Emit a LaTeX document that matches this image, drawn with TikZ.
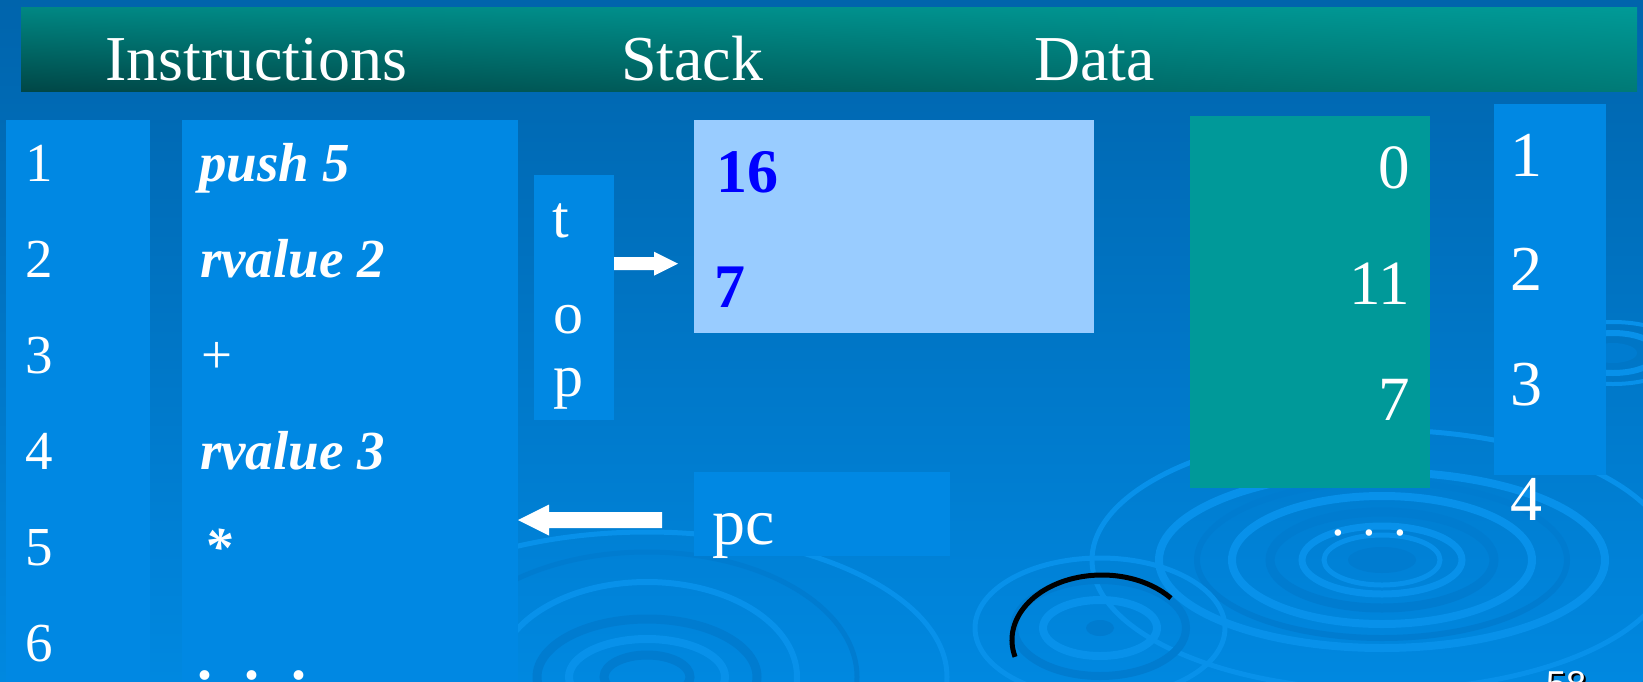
\documentclass[tikz,border=0pt]{standalone}
\usepackage{fontspec}
\setmainfont{Liberation Serif}
\newfontfamily\slidesans{Liberation Sans}
\usetikzlibrary{calc,shadings}

\newcommand\pxsize[1]{\fontsize{#1}{#1}\selectfont}

\definecolor{bgtop}{HTML}{0064AC}
\definecolor{bgmid}{HTML}{0072C4}
\definecolor{bgbot}{HTML}{0088E0}
\definecolor{panel}{HTML}{0088E3}
\definecolor{stackfill}{HTML}{99CCFF}
\definecolor{datafill}{HTML}{009999}
\definecolor{ringlight}{HTML}{0891EA}
\definecolor{ringdark}{HTML}{007CD0}
\definecolor{barUL}{HTML}{008783}
\definecolor{barUR}{HTML}{009A97}
\definecolor{barLL}{HTML}{004646}
\definecolor{barLR}{HTML}{007A76}
\definecolor{valblue}{HTML}{0000FF}

\tikzset{
  box/.style={draw=none, inner sep=0pt, outer sep=0pt, anchor=north west},
  panelbox/.style={box, fill=panel},
  label/.style={inner sep=0pt, outer sep=0pt, text=white, anchor=base west},
  bodytext/.style={label, font=\pxsize{55}},
  codetext/.style={label, font=\pxsize{55}\bfseries\itshape},
  ring/.style={line width=#1},
}

\begin{document}
\begin{tikzpicture}[x=1pt, y=-1pt]
\useasboundingbox (0,0) rectangle (1643,681);
\clip (0,0) rectangle (1643,681);

% slide background
\shade[top color=bgtop, middle color=bgmid, bottom color=bgbot] (0,0) rectangle (1643,681);

% ripple rings
\foreach \cx/\cy/\rx/\ry/\col/\w in {
  1382/560/223/88/ringlight/8, 1382/560/185/78/ringdark/6,
  1382/560/150/64/ringlight/8, 1382/560/112/48/ringdark/9,
  1382/560/80/34/ringlight/7, 1382/560/58/25/ringlight/5,
  1382/560/290/130/ringlight/5,
  1100/628/57/28/ringlight/8, 1100/628/86/48/ringdark/8,
  1100/628/125/70/ringlight/5,
  647/677/43/22/ringdark/9, 647/677/78/38/ringlight/8,
  647/677/110/58/ringdark/9, 647/677/150/95/ringlight/6,
  647/677/210/125/ringdark/5, 647/677/300/145/ringlight/5,
  1613/353/45/20/ringlight/6, 1613/353/70/31/ringlight/4}
  \draw[\col, ring=\w] (\cx,\cy) ellipse [x radius=\rx, y radius=\ry];
\fill[ringdark] (1382,560) ellipse [x radius=34, y radius=13];
\fill[ringdark] (1100,628) ellipse [x radius=14, y radius=8];
\fill[ringdark] (1613,353) ellipse [x radius=24, y radius=10];

% black outline arc
\coordinate (arcc) at (1102,640);
\draw[black, line width=5pt] ($(arcc)+(195:90pt and 65pt)$)
  arc[start angle=195, end angle=40, x radius=90pt, y radius=65pt];

% title bar
\node[box, shade, upper left=barUL, upper right=barUR, lower left=barLL,
      lower right=barLR, minimum width=1616, minimum height=84.4] (bar) at (21,7.3) {};
\node[label, font=\pxsize{64}] (hinstr) at (105,80) {Instructions};
\node[label, font=\pxsize{64}] (hstack) at (621,80) {Stack};
\node[label, font=\pxsize{64}] (hdata) at (1034,80) {Data};

% instruction numbers and code
\node[panelbox, minimum width=144, minimum height=575] (lnum) at (6,120) {};
\node[panelbox, minimum width=336, minimum height=575] (instr) at (182,120) {};
\foreach \n [count=\k from 0] in {1,2,3,4,5,6}
  \node[bodytext] (n\n) at (25,181.5+96*\k) {\n};
\node[codetext] (c1) at (199,181.5) {push 5};
\node[codetext] (c2) at (200,277.5) {rvalue 2};
\node[bodytext] (c3) at (201,373.5) {+};
\node[codetext] (c4) at (200,469.5) {rvalue 3};
\node[codetext] (c5) at (204,565.5) {*};
\node[label, font=\pxsize{60}\bfseries] (c6) at (197,679) {.\hspace{32.5pt}.\hspace{32.5pt}.};

% top pointer
\node[panelbox, minimum width=80, minimum height=245] (topbox) at (534,175) {};
\node[label, font=\pxsize{60}] (tt) at (552,237) {t};
\node[label, font=\pxsize{60}] (to) at (553,333) {o};
\node[label, font=\pxsize{60}] (tp) at (553,396) {p};

% stack
\node[box, fill=stackfill, minimum width=400, minimum height=213] (stack) at (694,120) {};
\node[label, text=valblue, font=\pxsize{62}\bfseries] (s16) at (716,192) {16};
\node[label, text=valblue, font=\pxsize{62}\bfseries] (s7) at (714,307) {7};

% program counter
\node[panelbox, minimum width=256, minimum height=84] (pcbox) at (694,472) {};
\node[label, font=\pxsize{66}] (pc) at (712,544) {pc};

% data memory
\node[box, fill=datafill, minimum width=240, minimum height=371.3] (data) at (1190,116.4) {};
\node[label, anchor=base east, font=\pxsize{63}] (d0) at (1410,188) {0};
\node[label, anchor=base east, font=\pxsize{63}] (d1) at (1410,304) {11};
\node[label, anchor=base east, font=\pxsize{63}] (d2) at (1410,420) {7};
\node[label, font=\pxsize{55}] (ddots) at (1331,535) {.\hspace{17.5pt}.\hspace{17.5pt}.};

% data addresses
\node[panelbox, minimum width=111.5, minimum height=371] (rnum) at (1494,104) {};
\foreach \n [count=\k from 0] in {1,2,3,4}
  \node[label, font=\pxsize{64}] (a\n) at (1510,176+114.8*\k) {\n};

% arrow: top -> stack
\coordinate (a1s) at ($(topbox.north east)+(0,88.7)$);
\coordinate (a1t) at ($(stack.west |- a1s)+(-16,0)$);
\fill[white] ($(a1s)+(0,-6.5)$) -- ($(a1t)+(-24,-6.5)$) -- ($(a1t)+(-24,-12)$)
  -- (a1t) -- ($(a1t)+(-24,12)$) -- ($(a1t)+(-24,6.5)$) -- ($(a1s)+(0,6.5)$) -- cycle;

% arrow: pc -> instructions
\coordinate (a2s) at ($(pcbox.west)+(-32,6)$);
\coordinate (a2t) at (instr.east |- a2s);
\fill[white] ($(a2s)+(0,-8)$) -- ($(a2t)+(31,-8)$) -- ($(a2t)+(31,-15.5)$)
  -- (a2t) -- ($(a2t)+(31,15.5)$) -- ($(a2t)+(31,8)$) -- ($(a2s)+(0,8)$) -- cycle;

% slide number
\node[label, text=black, font=\slidesans\pxsize{36}] (pgshadow) at (1548,698) {58};
\node[label, font=\slidesans\pxsize{36}] (pg) at (1546,696) {58};
\end{tikzpicture}
\end{document}
